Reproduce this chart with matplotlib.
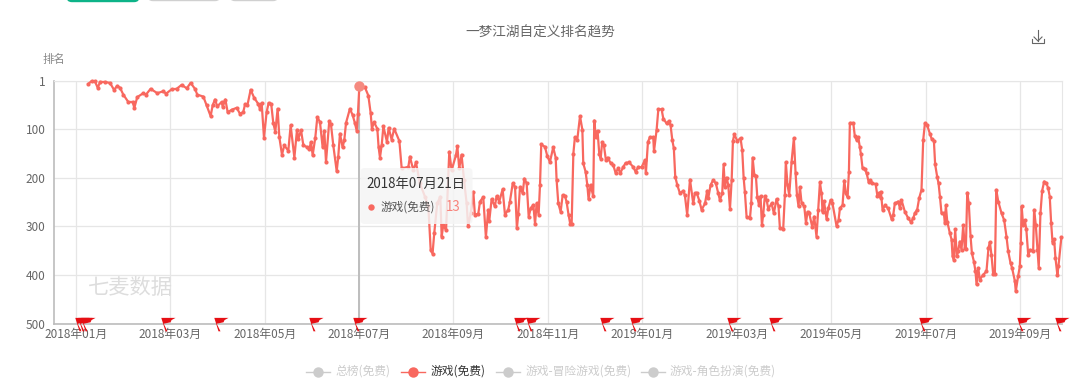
"""
Tendencia de ranking de 一梦江湖 (游戏免费), 2018-2019
"""

import matplotlib
matplotlib.use('Agg')
import matplotlib.pyplot as plt
from matplotlib.patches import FancyBboxPatch
from matplotlib.path import Path

plt.rcParams['font.family'] = ['Noto Sans CJK SC', 'DejaVu Sans']

# Datos: posicion en dias sobre el eje y ranking
dias = [
    8.1, 10.3, 12.4, 14.2, 15.7, 18.9, 22.1, 24.7, 26.8, 28.6, 30.7, 33.9, 36.7, 37.8, 39.7, 43.6, 45.3, 48.3,
    52.6, 56.5, 58.2, 61.9, 65.1, 68.3, 71.6, 74.1, 76.9, 78.4, 82.3, 84.4, 87, 88.3, 89.8, 91.3, 94.1, 94.8,
    96.5, 98, 100.6, 103.8, 105.9, 108, 109.2, 110.7, 112.8, 115, 117.7, 118.8, 119.9, 121.4, 123.1, 124.4,
    126.1, 127.4, 128.7, 130.2, 131.3, 133, 134.5, 137.1, 138.6, 141, 142.7, 143.6, 145.3, 146.8, 148.9, 150.6,
    151.7, 152.8, 154.5, 155.8, 157.5, 159.2, 160.3, 161.4, 163.5, 164.6, 166.1, 168.3, 169.3, 170.4, 172.1,
    173.2, 174.3, 176.8, 178.6, 180.1, 181.2, 182, 182.9, 186.5, 188.7, 190.2, 191, 192.3, 194.5, 195.3, 196.2,
    197.3, 198.4, 200.7, 201.8, 203.7, 205.4, 208.7, 210.2, 214.5, 215.5, 217.7, 219.4, 222, 225.2, 227.4,
    228.9, 230.1, 231.2, 233.1, 235.1, 236, 237, 238.8, 240.9, 242.4, 245.2, 246.1, 247.3, 248.8, 250.4, 252.1,
    253, 254.7, 256.4, 257.4, 259.6, 260.7, 262.8, 264.5, 266, 266.7, 268.2, 270.3, 271.4, 273.1, 275.3, 276.8,
    278.9, 280, 281.8, 283.3, 284.5, 285.4, 286.5, 288.2, 289.3, 290.8, 292.1, 293.4, 295.1, 296.2, 297.2,
    298.5, 299.4, 300.2, 302.6, 304.1, 305.8, 307.9, 309.5, 310.1, 311.2, 312.7, 314, 315.5, 316.5, 317.8,
    318.9, 319.8, 320.9, 321.9, 323.4, 325.2, 326.7, 327.3, 328.8, 329.9, 330.7, 332, 333.7, 334.4, 335.4,
    336.5, 337.6, 338.5, 339.5, 340.6, 341.9, 343, 344.9, 346.6, 348.1, 349.9, 351.1, 353.1, 354.6, 356.9,
    359.5, 361, 362.8, 364.9, 367, 367.7, 369, 370.3, 372.4, 372.9, 374.6, 375.7, 377.8, 378.9, 381, 382.5,
    383.6, 384.7, 385.7, 386.6, 387.9, 389.6, 391.8, 392.8, 394.3, 396.1, 398.2, 399.3, 400.4, 402.1, 403.6,
    405.8, 407.2, 407.9, 409.4, 411.1, 412.8, 414.3, 415.4, 416.9, 417.8, 418.6, 419.7, 420.8, 421.9, 423,
    423.8, 424.7, 426.6, 428.7, 429.8, 430.7, 431.5, 432.6, 434.8, 435.6, 436.5, 437.6, 438.6, 439.5, 440.6,
    441.6, 442.5, 443.3, 444.4, 445.5, 446.6, 448.7, 450.2, 451.9, 453.2, 454.1, 456.2, 457.3, 457.9, 459,
    460.1, 461.6, 463.1, 464.2, 465.1, 466.1, 467, 468.1, 469.8, 470.9, 471.9, 473, 475, 476.2, 477.7, 478.8,
    479.9, 480.9, 481.6, 482.5, 484.2, 485.3, 486.8, 488, 490.6, 491.9, 492.8, 494.5, 495.6, 496.6, 497.7,
    498.6, 499.2, 501.4, 502.4, 503.5, 504.6, 505.6, 506.3, 507.4, 508.9, 510, 511.4, 512.5, 513.8, 515.8, 517,
    518.1, 519, 519.2, 520.3, 521.8, 523.9, 526.1, 527.2, 528.2, 530.4, 531.5, 532.5, 534.7, 536.8, 538.6,
    540.1, 541.1, 542.6, 543.9, 545.4, 546.5, 547.6, 549.1, 550.8, 551.9, 553.4, 554.2, 555.5, 556.4, 557.3,
    558.3, 559.8, 560.5, 561.1, 562, 563.7, 564.8, 565.4, 566.3, 567.1, 568.2, 569, 570.1, 571.2, 572.3, 573.3,
    574, 574.9, 575.9, 577, 577.9, 579.2, 580.2, 580.9, 582, 583, 585.2, 587.3, 588.6, 589.5, 590.5, 591.6,
    592.7, 593.6, 594.9, 597, 598.7, 600.2, 601.3, 602.8, 603.8, 605.6, 606.2, 607.7, 608.8, 609.4, 610, 610.9,
    612, 613, 614.2, 615.2, 617.4, 618, 619.1, 620.2, 621, 622.1, 623.2, 624.5, 626, 627.1, 628.1, 629, 629.9,
    630.9, 631.8, 633, 633.7, 635.6,
]
ranking = [
    8, 2, 3, 16, 4, 4, 6, 20, 12, 16, 30, 45, 45, 57, 35, 27, 30, 18,
    27, 23, 28, 19, 18, 10, 17, 6, 18, 30, 34, 52, 74, 52, 40, 54, 45, 55,
    40, 66, 61, 57, 69, 66, 50, 52, 20, 36, 49, 59, 47, 118, 66, 47,
    50, 88, 106, 59, 117, 153, 134, 145, 93, 159, 102, 120, 103, 134, 137, 142,
    127, 154, 118, 76, 86, 137, 104, 168, 84, 91, 134, 187, 157, 110, 138,
    123, 88, 59, 72, 89, 104, 69, 13, 15, 32, 68, 100, 86, 100, 137, 159,
    134, 95, 127, 98, 122, 100, 125, 181, 178, 157, 185, 169, 212, 239, 259,
    348, 356, 314, 253, 239, 321, 297, 308, 147, 185, 154, 136, 181, 153, 205, 253,
    300, 273, 229, 276, 274, 249, 240, 322, 266, 288, 244, 259, 238, 249, 224, 276,
    266, 249, 212, 219, 304, 274, 219, 232, 202, 212, 280, 263, 256, 295, 253,
    276, 215, 132, 137, 156, 168, 138, 159, 205, 253, 270, 236, 238, 249, 276,
    295, 295, 151, 117, 123, 74, 102, 171, 188, 215, 244, 215, 238, 83, 117,
    104, 151, 161, 127, 134, 164, 159, 170, 174, 190, 181, 191, 178, 170, 169,
    178, 188, 178, 179, 164, 190, 127, 117, 117, 146, 102, 60, 60, 79, 89, 84,
    93, 123, 140, 198, 215, 232, 227, 236, 276, 204, 253, 232, 231, 247, 266,
    253, 227, 242, 215, 205, 212, 232, 246, 232, 173, 219, 200, 215, 264, 204,
    125, 111, 125, 119, 144, 200, 229, 280, 283, 253, 159, 195, 196, 239, 256,
    238, 298, 276, 238, 246, 264, 253, 273, 244, 259, 304, 306, 236, 168, 215,
    236, 168, 119, 191, 236, 259, 219, 253, 259, 293, 270, 273, 302, 280, 321, 266,
    210, 232, 270, 248, 285, 263, 246, 253, 299, 287, 263, 256, 206, 232, 240,
    188, 88, 88, 115, 123, 117, 137, 151, 181, 183, 191, 210, 205, 212, 213, 238,
    231, 242, 229, 266, 257, 263, 285, 276, 253, 249, 263, 246, 270, 283, 291,
    283, 273, 266, 242, 225, 123, 89, 93, 110, 120, 125, 173, 198, 212, 239,
    273, 273, 293, 257, 290, 314, 327, 360, 369, 306, 361, 351, 331, 348, 297, 344,
    346, 231, 253, 319, 355, 372, 392, 419, 385, 409, 399, 392, 344, 332, 358, 397,
    397, 225, 249, 273, 287, 321, 351, 375, 385, 412, 433, 402, 382, 334, 259, 297,
    287, 306, 358, 348, 350, 266, 297, 348, 385, 273, 227, 208, 212, 222, 239, 293, 333,
    326, 365, 399, 382, 322,
]

# Banderas de eventos sobre el eje
dias_banderas = [2.8, 4.7, 6.6, 58.2, 92.6, 153.6, 181.8, 285.8, 293.6, 341, 360.7, 423, 450.4, 547, 610, 634.6]

# Ejes
dias_ticks = [0, 60.9, 121.8, 182.7, 243.6, 304.5, 365.4, 426.3, 487.2, 548.1, 609]
etiquetas_x = ['2018年01月', '2018年03月', '2018年05月', '2018年07月', '2018年09月', '2018年11月',
               '2019年01月', '2019年03月', '2019年05月', '2019年07月', '2019年09月']
ticks_y = [1, 100, 200, 300, 400, 500]

# Tooltip
dia_cursor = 182.9
ranking_cursor = 13

# Leyenda
series = ['总榜(免费)', '游戏(免费)', '游戏-冒险游戏(免费)', '游戏-角色扮演(免费)']
serie_activa = 1

ROJO = '#f8685f'
GRIS_TEXTO = '#666666'
ANCHO, ALTO = 1080, 383

fig = plt.figure(figsize=(ANCHO / 100, ALTO / 100), dpi=100, facecolor='white')
ax = fig.add_axes([54 / ANCHO, 1 - 324 / ALTO, (1062 - 54) / ANCHO, (324 - 80.5) / ALTO])

ax.plot(dias, ranking, color=ROJO, lw=1.6, marker='o', ms=3, mew=0, zorder=3, clip_on=False)

# Cursor vertical y punto resaltado
ax.axvline(dia_cursor, color='#bdbdbd', lw=1.4, zorder=2)
ax.plot([dia_cursor], [ranking_cursor], marker='o', ms=7.5, mew=0, color='#f58a80', zorder=4)

# Bandera: origen en el eje, unidades en pixeles
vertices = [(-1, -6.8), (-5.2, 6.6), (9, 6.6), (5, 4.4), (4, 2.2), (-2.8, 0.8), (1, -6.8), (-1, -6.8)]
codigos = [Path.MOVETO] + [Path.LINETO] * 6 + [Path.CLOSEPOLY]
bandera = Path(vertices, codigos)
ax.plot(dias_banderas, [500] * len(dias_banderas), ls='', marker=bandera, ms=13, mew=0,
        color='#e60f14', zorder=5, clip_on=False)

ax.set_xlim(-14, 636)
ax.set_ylim(500, 1)
ax.set_xticks(dias_ticks)
ax.set_xticklabels(etiquetas_x, fontsize=8.5, color=GRIS_TEXTO)
ax.set_yticks(ticks_y)
ax.set_yticklabels([str(v) for v in ticks_y], fontsize=8.5, color=GRIS_TEXTO)
ax.tick_params(axis='both', length=0)
ax.tick_params(axis='x', pad=3)
ax.tick_params(axis='y', pad=6)
ax.grid(True, color='#e6e6e6', lw=0.9)
ax.set_axisbelow(True)
for lado in ['top', 'right']:
    ax.spines[lado].set_color('#e6e6e6')
for lado in ['left', 'bottom']:
    ax.spines[lado].set_color('#bcbcbc')
    ax.spines[lado].set_linewidth(1.2)

# Capa superior en pixeles para todo lo que esta fuera del area de datos
capa = fig.add_axes([0, 0, 1, 1], facecolor='none')
capa.set_xlim(0, ANCHO)
capa.set_ylim(ALTO, 0)
capa.axis('off')

# Botones recortados en el borde superior
capa.add_patch(FancyBboxPatch((67, -20), 72, 21.5, boxstyle='round,pad=0,rounding_size=5', fc='#0db388', ec='#0db388', lw=1))
capa.add_patch(FancyBboxPatch((148, -20), 72, 20.5, boxstyle='round,pad=0,rounding_size=5', fc='white', ec='#d0d0d0', lw=1))
capa.add_patch(FancyBboxPatch((230, -20), 48, 20.5, boxstyle='round,pad=0,rounding_size=5', fc='white', ec='#d0d0d0', lw=1))

capa.text(540, 33, '一梦江湖自定义排名趋势', ha='center', va='center', fontsize=9.8, color=GRIS_TEXTO)
capa.text(53.5, 59.5, '排名', ha='center', va='center', fontsize=8.2, color='#888888')
capa.text(88, 288, '七麦数据', ha='left', va='center', fontsize=15.3, color='#dddddd', style='italic')

# Icono de descarga
capa.plot([1038, 1038], [30, 41], color=GRIS_TEXTO, lw=0.8)
capa.plot([1034, 1038, 1042], [37, 41, 37], color=GRIS_TEXTO, lw=0.8)
capa.plot([1032, 1032, 1044, 1044], [39, 43, 43, 39], color=GRIS_TEXTO, lw=0.8)

# Tooltip
capa.add_patch(FancyBboxPatch((360.5, 168), 112, 56, boxstyle='round,pad=0,rounding_size=4',
                              fc='#f5f5f5', ec='none', alpha=0.84))
capa.text(366, 184, '2018年07月21日', ha='left', va='center', fontsize=9.6, color='#333333')
capa.plot([371], [207], marker='o', ms=4.6, mew=0, color=ROJO)
capa.text(381, 207, series[serie_activa], ha='left', va='center', fontsize=8.4, color='#555555')
capa.text(446, 207, str(ranking_cursor), ha='left', va='center', fontsize=9.6, color='#f8837b')

# Leyenda
centros = [318, 413, 508, 652.5]
for nombre, cx, i in zip(series, centros, range(len(series))):
    color_h = ROJO if i == serie_activa else '#cccccc'
    color_t = '#333333' if i == serie_activa else '#cccccc'
    capa.plot([cx - 12, cx + 12], [371.5, 371.5], color=color_h, lw=1)
    capa.plot([cx], [371.5], marker='o', ms=7.5, mew=0, color=color_h)
    capa.text(cx + 17.5, 371.5, nombre, ha='left', va='center', fontsize=8.5, color=color_t)

plt.savefig('out.png', dpi=100)
